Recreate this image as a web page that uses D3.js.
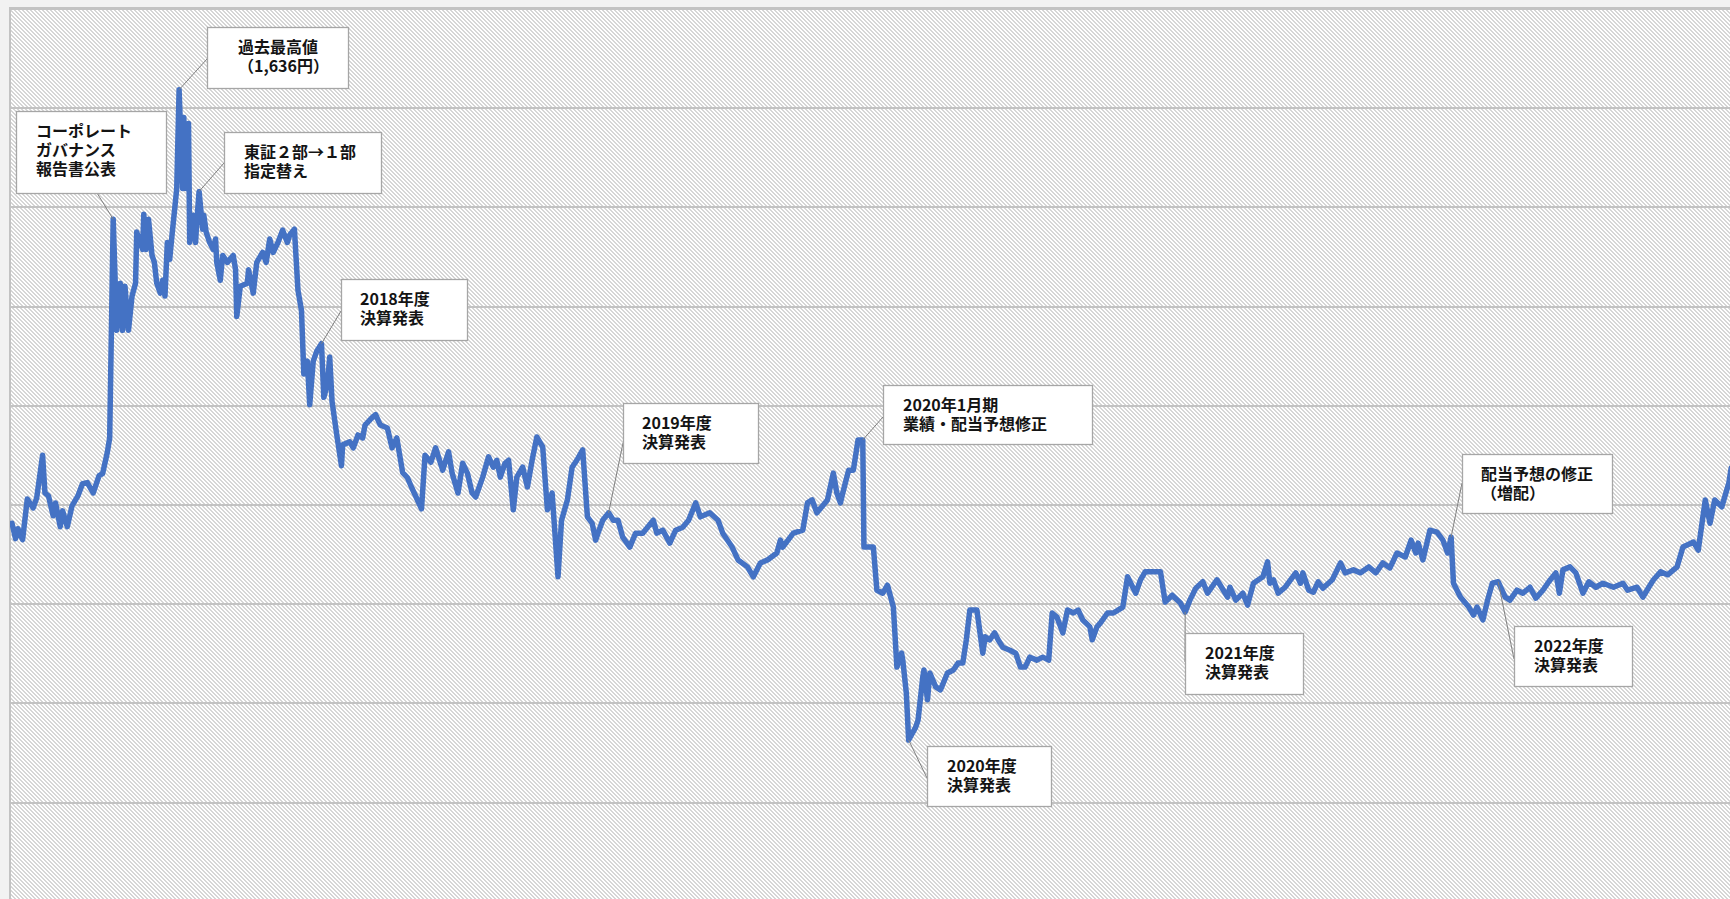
<!DOCTYPE html>
<html><head><meta charset="utf-8">
<script src="https://cdn.jsdelivr.net/npm/d3@7"></script>
<style>
html,body{margin:0;padding:0;background:#f2f2f2;overflow:hidden;}
svg{display:block;}
</style></head><body>
<svg id="chart" width="1730" height="899"></svg>
<script>
// ---- data (trading-day index, closing price in yen) ----
const tradingDays = [
0,3,5,9,13,18,21,26,28,31,
35,37,41,43,47,51,56,60,64,69,
74,77,81,83,86,89,92,94,96,99,
102,105,106,111,112,114,116,119,121,123,
126,128,130,132,134,136,140,142,145,146,
148,150,151,154,156,157,159,162,163,165,
168,171,173,174,177,179,183,188,190,191,
194,200,201,205,208,213,216,219,222,226,
230,234,236,240,243,246,248,251,253,256,
259,263,265,268,270,272,276,280,281,287,
290,294,298,300,306,309,313,319,323,327,
332,336,340,343,348,351,356,360,
366,371,374,379,383,387,391,394,400,405,409,
412,415,419,422,426,429,434,438,442,446,
451,455,459,464,467,472,476,480,485,489,
493,496,498,502,507,511,515,519,525,530,
536,545,548,553,559,564,570,575,581,585,
593,600,604,612,617,625,630,636,642,650,
653,655,664,672,676,680,684,693,698,701,
704,706,711,715,719,723,724,732,735,740,
744,749,752,756,757,760,762,768,770,774,
775,778,780,785,789,795,800,804,808,811,
814,820,825,827,831,835,838,842,848,853,
857,861,865,871,876,881,884,888,893,897,
902,906,910,916,918,922,925,931,936,944,
948,955,959,963,976,980,986,993,997,1001,
1006,1012,1016,1024,1033,1035,1040,1046,1050,1055,
1063,1067,1069,1072,1076,1082,1091,1095,1097,1102,
1106,1110,1114,1122,1129,1133,1140,1146,1153,1159,
1165,1171,1177,1184,1189,1193,1195,1199,1201,1205,
1211,1216,1220,1223,1225,1231,1238,1242,1245,1250,
1254,1258,1263,1269,1273,1279,1284,1290,1295,1301,
1306,1312,1315,1318,1324,1329,1335,1340,1346,1352,
1361,1369,1373,1381,1386,1391,1395,1401,1407,1415,
1420,1429,1433,1439,1443,1447,1453,1459,1461
];
const closePrices = [
762,731,751,729,811,793,813,899,823,817,
777,803,755,787,755,797,817,842,844,823,
858,862,905,934,1375,1151,1246,1151,1240,1151,
1220,1246,1349,1314,1385,1314,1375,1302,1288,1246,
1226,1252,1220,1328,1294,1343,1437,1636,1437,1580,
1437,1568,1328,1383,1328,1369,1431,1355,1383,1349,
1328,1314,1335,1288,1252,1302,1288,1302,1273,1179,
1240,1246,1273,1226,1288,1308,1288,1335,1308,1328,
1353,1328,1343,1355,1232,1191,1063,1089,1001,1089,
1109,1124,1016,1042,1097,1007,940,878,920,926,
914,940,934,960,975,981,960,954,914,934,
864,854,832,817,791,899,885,914,
869,906,863,823,883,863,823,815,855,896,875,
889,855,883,889,789,855,875,835,889,936,
916,789,823,654,768,809,875,889,910,775,
762,728,742,768,783,768,768,734,714,742,
742,768,742,748,722,748,754,768,803,775,
783,768,742,714,688,674,654,682,688,702,
728,714,742,748,803,809,783,809,863,823,
803,823,869,869,930,930,714,714,627,621,
637,593,472,500,486,420,325,351,365,452,
466,406,460,432,426,460,466,480,480,527,
587,587,500,533,527,541,527,512,506,500,
472,472,492,486,492,486,581,573,541,587,
581,587,567,553,527,553,561,581,581,593,
654,621,648,664,664,603,617,601,583,607,
631,644,621,648,613,633,607,621,597,641,
654,684,641,648,621,633,662,641,662,627,
623,644,631,648,682,662,668,662,674,662,
682,672,702,694,728,702,722,688,708,748,
744,728,702,734,641,613,593,577,593,567,
607,641,644,613,607,627,621,633,611,627,
644,662,621,668,674,662,621,644,633,641,
633,641,627,633,613,633,648,664,658,674,
714,724,708,809,762,809,795,843,873
];
const yTickValues = [0,200,400,600,800,1000,1200,1400,1600,1800];
const annotationLabels = [
  ["コーポレート","ガバナンス","報告書公表"],
  ["過去最高値","（1,636円）"],
  ["東証２部→１部","指定替え"],
  ["2018年度","決算発表"],
  ["2019年度","決算発表"],
  ["2020年1月期","業績・配当予想修正"],
  ["2020年度","決算発表"],
  ["2021年度","決算発表"],
  ["配当予想の修正","（増配）"],
  ["2022年度","決算発表"]
];
const annotationDays = [86,142,159,263,507,723,762,997,1223,1263];

// ---- layout (pixels) ----
const W = 1730, H = 899;
const plot = {left:10, top:8, right:1740, bottom:910};
const boxLayout = [
 {x:16,y:111,w:150,h:82,tx:20,lx:97,ly:193},
 {x:207,y:27,w:141,h:61,tx:31,lx:207,ly:59},
 {x:224,y:132,w:157,h:61,tx:20,lx:224,ly:163},
 {x:341,y:279,w:126,h:61,tx:19,lx:341,ly:311},
 {x:623,y:403,w:135,h:60,tx:19,lx:623,ly:443},
 {x:883,y:385,w:209,h:59,tx:20,lx:883,ly:417},
 {x:927,y:746,w:124,h:60,tx:20,lx:927,ly:778},
 {x:1185,y:633,w:118,h:61,tx:20,lx:1185,ly:662},
 {x:1462,y:454,w:150,h:59,tx:19,lx:1462,ly:483},
 {x:1514,y:626,w:118,h:60,tx:20,lx:1514,ly:659}
];

const svg = d3.select("#chart");
const defs = svg.append("defs");
const pat = defs.append("pattern").attr("id","hatch")
  .attr("patternUnits","userSpaceOnUse").attr("width",4).attr("height",4);
pat.append("rect").attr("width",4).attr("height",4).attr("fill","#ffffff");
for (let r = 0; r < 4; r++) {
  [r, (r+1)%4].forEach(c => pat.append("rect").attr("x",c).attr("y",r)
    .attr("width",1).attr("height",1).attr("fill","#d6d6d6")
    .attr("shape-rendering","crispEdges"));
}
defs.append("clipPath").attr("id","clip").append("rect")
  .attr("x",plot.left).attr("y",plot.top)
  .attr("width",plot.right-plot.left).attr("height",plot.bottom-plot.top);

svg.append("rect").attr("width",W).attr("height",H).attr("fill","#f2f2f2");
svg.append("rect").attr("x",plot.left).attr("y",plot.top)
  .attr("width",plot.right-plot.left).attr("height",plot.bottom-plot.top)
  .attr("fill","url(#hatch)");

const x = d3.scaleLinear().domain([0,1460]).range([12,1730]);
const y = d3.scaleLinear().domain([0,1800]).range([901.2,8.4]);

const grid = svg.append("g").attr("transform",`translate(${plot.left},0)`)
  .call(d3.axisLeft(y).tickValues(yTickValues).tickSize(-(plot.right-plot.left)).tickFormat(""));
grid.select(".domain").remove();
grid.selectAll(".tick line").attr("stroke","#c3c3c3").attr("stroke-width",2)
  .attr("shape-rendering","crispEdges");

// plot border (top & left)
svg.append("line").attr("x1",plot.left).attr("x2",plot.left).attr("y1",plot.top-1).attr("y2",H)
  .attr("stroke","#c3c3c3").attr("stroke-width",2);
svg.append("line").attr("x1",plot.left).attr("x2",W).attr("y1",plot.top).attr("y2",plot.top)
  .attr("stroke","#c3c3c3").attr("stroke-width",2);

const series = tradingDays.map((d,i)=>({day:d, price:closePrices[i]}));
const line = d3.line().x(d=>x(d.day)).y(d=>y(d.price));
svg.append("path").datum(series).attr("clip-path","url(#clip)")
  .attr("d",line).attr("fill","none").attr("stroke","#4472C4")
  .attr("stroke-width",5.5).attr("stroke-linejoin","round").attr("stroke-linecap","round");

// annotations
const ann = svg.append("g");
annotationDays.forEach((day,i)=>{
  const pt = series.find(s=>s.day===day);
  const b = boxLayout[i];
  ann.append("line").attr("x1",x(pt.day)).attr("y1",y(pt.price))
    .attr("x2",b.lx).attr("y2",b.ly).attr("stroke","#808080").attr("stroke-width",1);
});
annotationLabels.forEach((lines,i)=>{
  const b = boxLayout[i];
  ann.append("rect").attr("x",b.x+0.5).attr("y",b.y+0.5).attr("width",b.w).attr("height",b.h)
    .attr("fill","#ffffff").attr("stroke","#a6a6a6").attr("stroke-width",1.3);
  const first = b.y + 18.5;
  lines.forEach((t,j)=>{
    ann.append("text").attr("x",b.x+b.tx).attr("y",first + j*19.3)
      .attr("dominant-baseline","central")
      .attr("font-family","'Noto Sans CJK JP','Noto Sans',sans-serif")
      .attr("font-weight",700).attr("font-size",16).attr("fill","#141414")
      .text(t);
  });
});
</script>
</body></html>
